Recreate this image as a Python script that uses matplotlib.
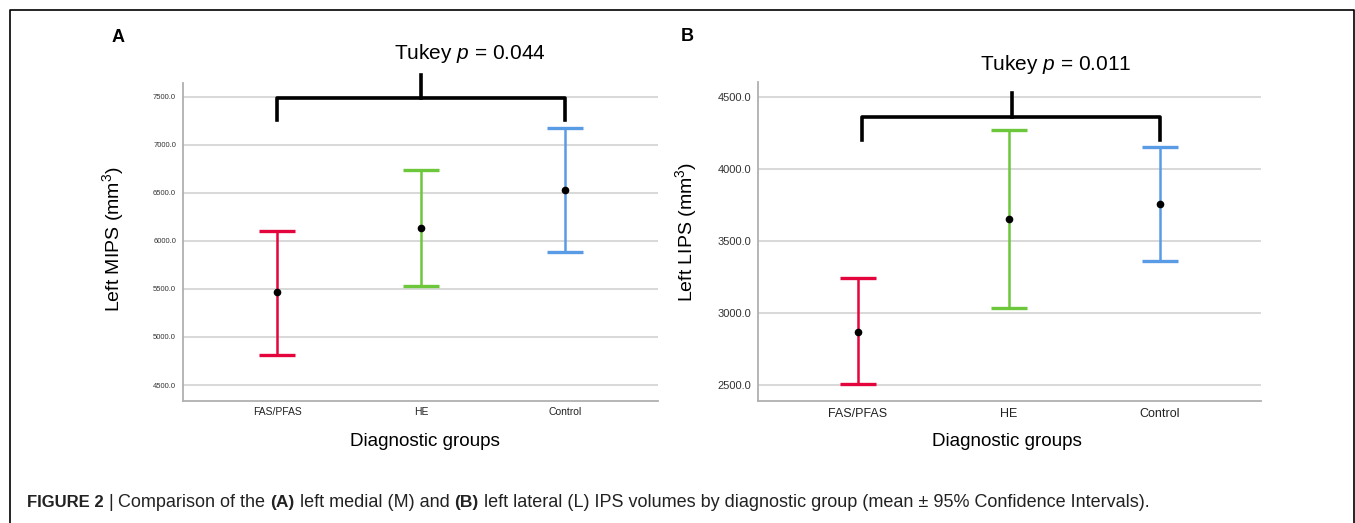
import matplotlib
matplotlib.use("Agg")
import matplotlib.pyplot as plt
from matplotlib.lines import Line2D

plt.rcParams['font.family'] = ['Liberation Sans', 'DejaVu Sans']
plt.rcParams['mathtext.fontset'] = 'custom'
plt.rcParams['mathtext.rm'] = 'Liberation Sans'
plt.rcParams['mathtext.it'] = 'Liberation Sans:italic'
plt.rcParams['mathtext.bf'] = 'Liberation Sans:bold'

# ---------------- data ----------------
groups = ["FAS/PFAS", "HE", "Control"]
colors = ["#E3053C", "#6CC73A", "#5A9BE6"]

mips_mean = [5463, 6135, 6530]
mips_low = [4814, 5532, 5886]
mips_high = [6104, 6738, 7175]
mips_ticks = [4500, 5000, 5500, 6000, 6500, 7000, 7500]

lips_mean = [2870, 3652, 3756]
lips_low = [2505, 3035, 3360]
lips_high = [3245, 4269, 4153]
lips_ticks = [2500, 3000, 3500, 4000, 4500]

tukey_a = "0.044"
tukey_b = "0.011"

W, H = 1355, 523
fig = plt.figure(figsize=(W / 100, H / 100), dpi=100)

narrow = ['Liberation Sans Narrow', 'Liberation Sans', 'DejaVu Sans']


def px_box(l, t, r, b):
    return [l / W, 1 - b / H, (r - l) / W, (b - t) / H]


def panel(rect, xlim, ylim, means, lows, highs, yticks, yfs, xfs):
    ax = fig.add_axes(rect)
    ax.set_xlim(*xlim)
    ax.set_ylim(*ylim)
    for s in ["top", "right"]:
        ax.spines[s].set_visible(False)
    for s in ["left", "bottom"]:
        ax.spines[s].set_color("#b0b0b0")
        ax.spines[s].set_linewidth(1.3)
    ax.set_yticks(yticks)
    ax.set_yticklabels([f"{v:.1f}" for v in yticks], fontsize=yfs, family=narrow, color="#333333")
    ax.set_xticks(range(len(groups)))
    ax.set_xticklabels(groups, fontsize=xfs, family=narrow, color="#222222")
    ax.tick_params(length=0, pad=5)
    ax.yaxis.grid(True, color="#d8d8d8", linewidth=1.4)
    ax.set_axisbelow(True)
    for i in range(len(groups)):
        ax.errorbar([i], [means[i]],
                    yerr=[[means[i] - lows[i]], [highs[i] - means[i]]],
                    fmt="none", ecolor=colors[i], elinewidth=1.8,
                    capsize=13, capthick=2.4, zorder=3)
        ax.plot([i], [means[i]], "o", color="black", markersize=4.5, zorder=4)
    return ax


axA = panel(px_box(183, 83, 658, 400.5), (-0.653, 2.646), (4339, 7643),
            mips_mean, mips_low, mips_high, mips_ticks, 5.5, 7.5)
axB = panel(px_box(758, 82, 1261, 400.7), (-0.662, 2.669), (2391, 4602),
            lips_mean, lips_low, lips_high, lips_ticks, 8, 9)


def bracket(ax, x0, x1, yh, ytip, xc, ytop, tx, ty, p):
    ax.add_line(Line2D([x0, x0, x1, x1], [ytip, yh, yh, ytip], color="black", lw=2.6,
                       solid_joinstyle="round", clip_on=False, zorder=5))
    ax.add_line(Line2D([xc, xc], [yh, ytop], color="black", lw=2.6,
                       clip_on=False, zorder=5))
    ax.text(tx, ty, f"Tukey $p$ = {p}", ha="center", va="center", fontsize=15,
            clip_on=False)


bracket(axA, 0, 2, 7490, 7260, 1.0, 7725, 1.34, 7954, tukey_a)
bracket(axB, 0.03, 2.0, 4359, 4200, 1.02, 4525, 1.31, 4722, tukey_b)

# axis labels
fig.text(113 / W, 1 - 239 / H, "Left MIPS (mm$^3$)", rotation=90, ha="center", va="center", fontsize=14)
fig.text(686 / W, 1 - 232 / H, "Left LIPS (mm$^3$)", rotation=90, ha="center", va="center", fontsize=14)
fig.text(425 / W, 1 - 441 / H, "Diagnostic groups", ha="center", va="center", fontsize=13.6)
fig.text(1007 / W, 1 - 441 / H, "Diagnostic groups", ha="center", va="center", fontsize=13.6)

# panel letters
fig.text(118 / W, 1 - 38 / H, "A", ha="center", va="center", fontsize=13, fontweight="bold")
fig.text(687 / W, 1 - 36 / H, "B", ha="center", va="center", fontsize=13, fontweight="bold")

# frame
fig.add_artist(Line2D([9.5 / W, 9.5 / W, 1353.5 / W, 1353.5 / W],
                      [0, 1 - 10 / H, 1 - 10 / H, 0], color="black", lw=1.2,
                      transform=fig.transFigure))

# caption (pieces laid out left to right, shared baseline)
pieces = [("FIGURE 2", "bold", 12), (" | ", "normal", 13), ("Comparison of the ", "normal", 13),
          ("(A)", "bold", 12.5), (" left medial (M) and ", "normal", 13), ("(B)", "bold", 12.5),
          (" left lateral (L) IPS volumes by diagnostic group (mean \u00b1 95% Confidence Intervals).",
           "normal", 13)]
fig.canvas.draw()
r = fig.canvas.get_renderer()
x = 27
for s, w, fs in pieces:
    t = fig.text(x / W, 1 - 507 / H, s, fontweight=w, fontsize=fs, ha="left", va="baseline",
                 color="#222222")
    x = t.get_window_extent(r).x1

fig.savefig("out.png", dpi=100)
